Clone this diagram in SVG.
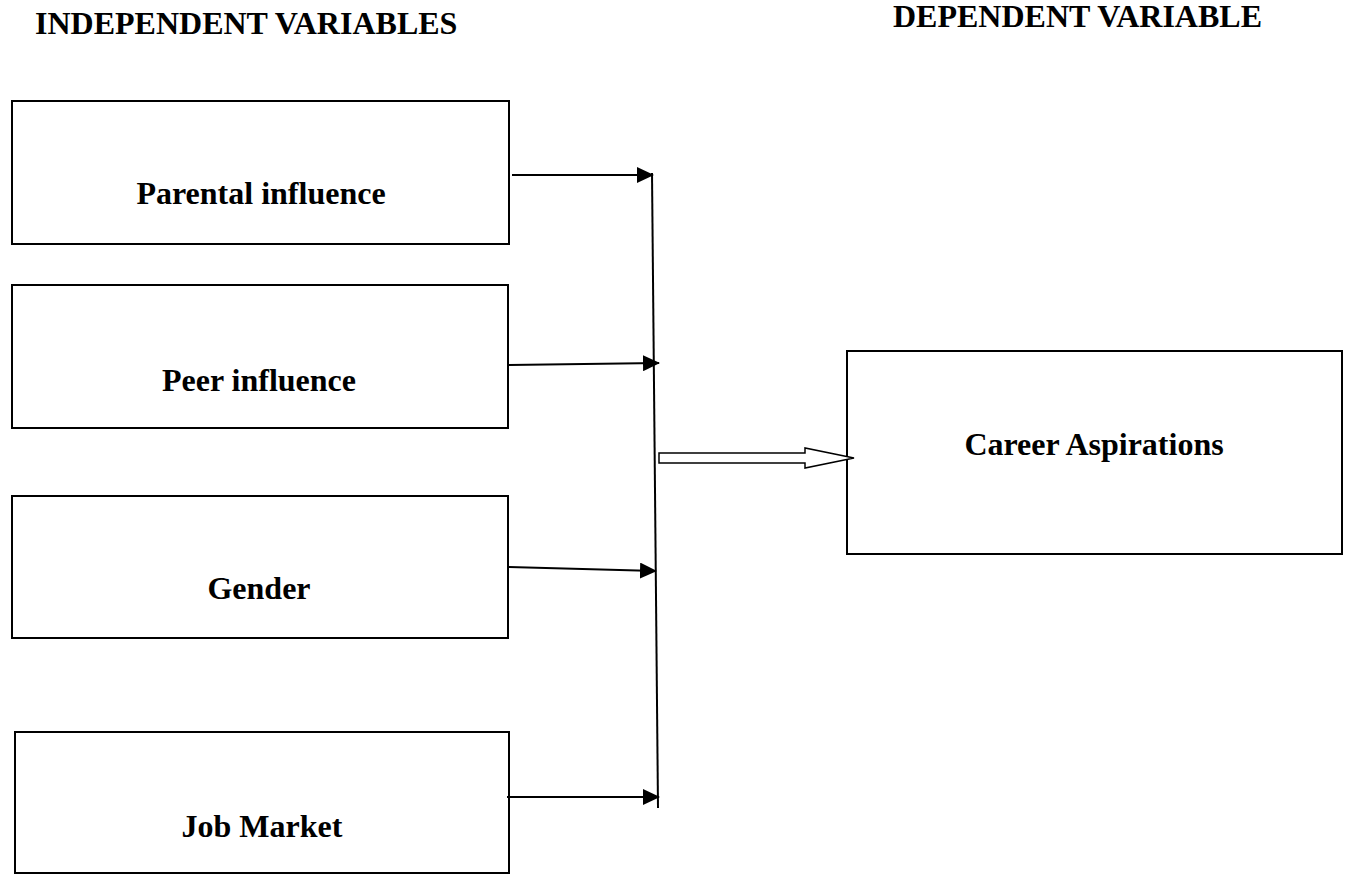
<svg xmlns="http://www.w3.org/2000/svg" width="1349" height="874" viewBox="0 0 1349 874">
<style>
.box{fill:#fff;stroke:#000;stroke-width:2}
.lbl{font-family:"Liberation Serif","Times New Roman",serif;font-weight:bold;font-size:32px;fill:#000;text-anchor:middle}
.hdr{font-family:"Liberation Serif","Times New Roman",serif;font-weight:bold;font-size:32px;fill:#000}
.con{stroke:#000;stroke-width:2;fill:none}
</style>
<defs>
<marker id="ah" markerUnits="userSpaceOnUse" markerWidth="17" markerHeight="16" viewBox="0 0 17 16" refX="16" refY="8" orient="auto">
<path d="M0,0 L17,8 L0,16 Z" fill="#000"/>
</marker>
</defs>
<rect width="1349" height="874" fill="#fff"/>
<g id="headers">
<text class="hdr" x="35" y="34">INDEPENDENT VARIABLES</text>
<text class="hdr" x="1262" y="27" text-anchor="end">DEPENDENT VARIABLE</text>
</g>
<g id="node-parental">
<rect class="box" x="12" y="101" width="497" height="143"/>
<text class="lbl" x="261" y="204">Parental influence</text>
</g>
<g id="node-peer">
<rect class="box" x="12" y="285" width="496" height="143"/>
<text class="lbl" x="259" y="391">Peer influence</text>
</g>
<g id="node-gender">
<rect class="box" x="12" y="496" width="496" height="142"/>
<text class="lbl" x="259" y="599">Gender</text>
</g>
<g id="node-job">
<rect class="box" x="15" y="732" width="494" height="141"/>
<text class="lbl" x="262" y="837">Job Market</text>
</g>
<g id="node-career">
<rect class="box" x="847" y="351" width="495" height="203"/>
<text class="lbl" x="1094" y="455">Career Aspirations</text>
</g>
<g id="connectors">
<line class="con" x1="652" y1="173" x2="658" y2="808"/>
<line class="con" x1="512" y1="175" x2="653" y2="175" marker-end="url(#ah)"/>
<line class="con" x1="509" y1="365" x2="659" y2="363" marker-end="url(#ah)"/>
<line class="con" x1="509" y1="567" x2="656" y2="571" marker-end="url(#ah)"/>
<line class="con" x1="507" y1="797" x2="659" y2="797" marker-end="url(#ah)"/>
<polygon points="659,453 805,453 805,448 854,458 805,468 805,463 659,463" fill="#fff" stroke="#000" stroke-width="1.5"/>
</g>
</svg>
